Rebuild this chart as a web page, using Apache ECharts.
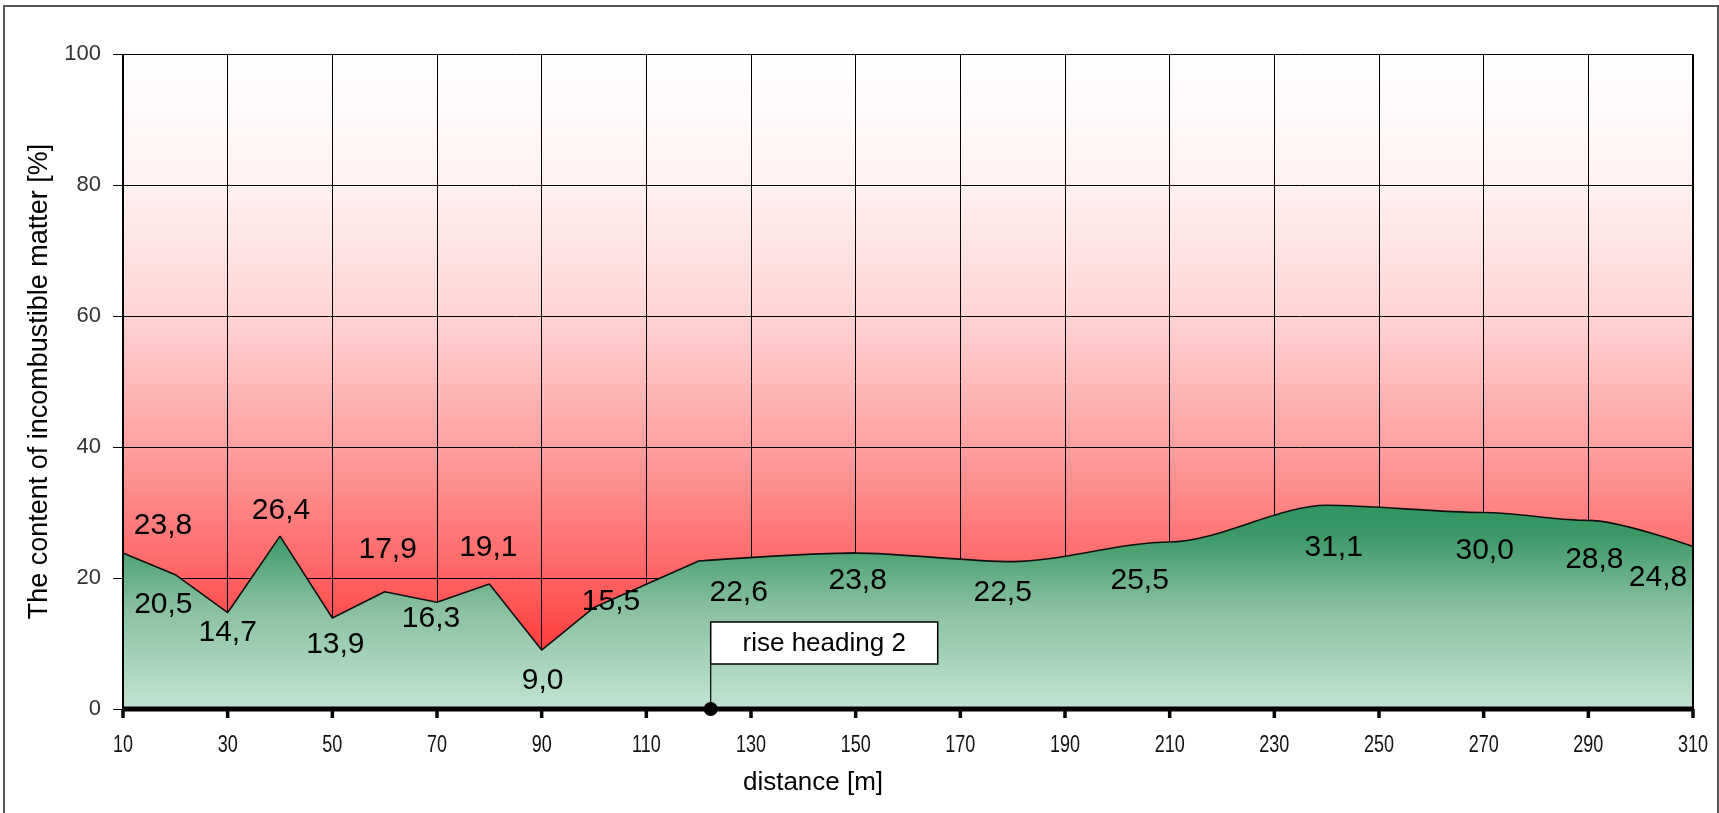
<!DOCTYPE html>
<html>
<head>
<meta charset="utf-8">
<script src="https://cdn.jsdelivr.net/npm/echarts@6/dist/echarts.min.js"></script>
<style>
html,body{margin:0;padding:0;background:#fff;}
#chart{width:1719px;height:813px;}
</style>
</head>
<body>
<div id="chart"></div>
<script>
// ---- data ----
const distances = [10, 20, 30, 40, 50, 60, 70, 80, 90, 100, 120, 150, 180, 210, 240, 270, 290, 310];
const contents  = [23.8, 20.5, 14.7, 26.4, 13.9, 17.9, 16.3, 19.1, 9.0, 15.5, 22.6, 23.8, 22.5, 25.5, 31.1, 30.0, 28.8, 24.8];
const smoothFrom = 120;            // profile drawn smoothed from this distance on
const xTicks = [10, 30, 50, 70, 90, 110, 130, 150, 170, 190, 210, 230, 250, 270, 290, 310];
const yTicks = [0, 20, 40, 60, 80, 100];
const riseHeadingName = 'rise heading 2';
const riseHeadingDistance = 122.3;
const xTitle = 'distance [m]';
const yTitle = 'The content of incombustible matter [%]';

// ---- label layout (pixel offsets of the value labels from their points) ----
const labelOffsets = [
  [40, -27], [-12, 30], [0, 20], [1, -25], [3, 27], [3, -42], [-6, 16], [-1, -36], [1, 31], [17, -6],
  [40, 32], [2, 28], [-10, 31], [-30, 39], [7, 42], [1, 38], [6, 39], [-35, 31]
];

const FONT = "'Liberation Sans', Arial, sans-serif";

function fmt(v) { return v.toFixed(1).replace('.', ','); }

const splitIdx = distances.indexOf(smoothFrom);
function points(from, to, labelFrom, labelTo) {
  const out = [];
  for (let i = from; i <= to; i++) {
    out.push({
      value: [distances[i], contents[i]],
      label: { show: i >= labelFrom && i <= labelTo, offset: labelOffsets[i] }
    });
  }
  return out;
}
// straight part runs one point into the smoothed part so the two fills overlap (no seam)
const partA = points(0, splitIdx + 1, 0, splitIdx - 1);
const partB = points(splitIdx, distances.length - 1, splitIdx, distances.length - 1);

const xMin = xTicks[0], xMax = xTicks[xTicks.length - 1], xStep = xTicks[1] - xTicks[0];
const yMin = yTicks[0], yMax = yTicks[yTicks.length - 1], yStep = yTicks[1] - yTicks[0];

const chart = echarts.init(document.getElementById('chart'), null, { renderer: 'canvas' });

const redBg = new echarts.graphic.LinearGradient(0, 0, 0, 1, [
  { offset: 0, color: '#ffffff' },
  { offset: 0.2, color: '#fff1f1' },
  { offset: 0.4, color: '#ffd4d4' },
  { offset: 0.6, color: '#ffa0a0' },
  { offset: 0.8, color: '#ff6262' },
  { offset: 1, color: '#ff1e1e' }
]);

const greenStops = [
  { offset: 0, color: '#309461' },
  { offset: 0.15, color: '#3c9967' },
  { offset: 0.5, color: '#88c09f' },
  { offset: 1, color: '#c2e4d3' }
];

function lineSeries(data, smooth, z) {
  return {
    type: 'line',
    xAxisIndex: 0,
    yAxisIndex: 0,
    data: data,
    smooth: smooth,
    smoothMonotone: 'x',
    symbol: 'circle',
    symbolSize: 1,
    showSymbol: true,
    showAllSymbol: true,
    itemStyle: { color: 'rgba(0,0,0,0)' },
    lineStyle: { color: '#111', width: 1.6 },
    areaStyle: { color: new echarts.graphic.LinearGradient(0, 0, 0, 1, greenStops), opacity: 1 },
    label: {
      show: true,
      position: 'inside',
      color: '#000',
      fontFamily: FONT,
      fontSize: 30,
      align: 'center',
      verticalAlign: 'middle',
      formatter: p => fmt(p.value[1])
    },
    emphasis: { disabled: true },
    animation: false,
    z: z
  };
}

const option = {
  animation: false,
  backgroundColor: '#ffffff',
  grid: {
    left: 123, right: 26, top: 54, bottom: 104,
    show: true, backgroundColor: redBg, borderWidth: 0
  },
  graphic: [{
    type: 'rect',
    shape: { x: 4, y: 6, width: 1714, height: 830 },
    style: { fill: 'none', stroke: '#555', lineWidth: 2 },
    silent: true, z: 100
  }],
  xAxis: [
    {
      type: 'value', min: xMin, max: xMax, interval: xStep, position: 'bottom',
      axisLine: { show: false }, axisTick: { show: false }, axisLabel: { show: false },
      splitLine: { show: true, lineStyle: { color: '#000', width: 1 } },
      name: xTitle, nameLocation: 'middle', nameGap: 61,
      nameTextStyle: { color: '#000', fontFamily: FONT, fontSize: 26, padding: [0, 190, 0, 0] }
    }
  ],
  yAxis: [
    {
      type: 'value', min: yMin, max: yMax, interval: yStep, position: 'left',
      axisLine: { show: false },
      axisTick: { show: true, inside: false, length: 10, lineStyle: { color: '#000', width: 1 } },
      axisLabel: { show: true, margin: 22, color: '#333', fontFamily: FONT, fontSize: 22 },
      splitLine: { show: true, lineStyle: { color: '#000', width: 1 } },
      name: yTitle, nameLocation: 'middle', nameGap: 66,
      nameTextStyle: { color: '#000', fontFamily: FONT, fontSize: 27 }
    }
  ],
  series: [
    lineSeries(partA, false, 2),
    lineSeries(partB, 0.3, 3),
    // plot frame drawn above the fill: x axis line with ticks and narrow tick labels, side edges
    {
      type: 'custom',
      xAxisIndex: 0,
      yAxisIndex: 0,
      z: 15,
      clip: false,
      silent: true,
      data: [[xMin, yMin]],
      renderItem: function (params, api) {
        const bl = api.coord([xMin, yMin]);
        const br = api.coord([xMax, yMin]);
        const tl = api.coord([xMin, yMax]);
        const tr = api.coord([xMax, yMax]);
        const children = [
          { type: 'line', shape: { x1: tl[0], y1: tl[1], x2: bl[0], y2: bl[1] }, style: { stroke: '#000', lineWidth: 2 } },
          { type: 'line', shape: { x1: tr[0], y1: tr[1], x2: br[0], y2: br[1] }, style: { stroke: '#000', lineWidth: 2 } },
          { type: 'line', shape: { x1: bl[0] - 1, y1: bl[1], x2: br[0] + 1, y2: br[1] }, style: { stroke: '#000', lineWidth: 5 } }
        ];
        xTicks.forEach(function (t) {
          const p = api.coord([t, yMin]);
          children.push({ type: 'line', shape: { x1: p[0], y1: p[1], x2: p[0], y2: p[1] + 9 }, style: { stroke: '#000', lineWidth: 3.5 } });
          children.push({
            type: 'text', x: p[0], y: p[1] + 36, scaleX: 0.75, scaleY: 1,
            style: { x: 0, y: 0, text: String(t), fill: '#111', font: '24px ' + FONT, align: 'center', verticalAlign: 'middle' }
          });
        });
        return { type: 'group', children: children };
      }
    },
    {
      type: 'custom',
      xAxisIndex: 0,
      yAxisIndex: 0,
      z: 20,
      clip: false,
      silent: true,
      data: [[riseHeadingDistance, 0]],
      renderItem: function (params, api) {
        const p = api.coord([api.value(0), api.value(1)]);
        const boxTop = p[1] - 87, boxW = 227, boxH = 42;
        return {
          type: 'group',
          children: [
            { type: 'line', shape: { x1: p[0], y1: p[1], x2: p[0], y2: boxTop }, style: { stroke: '#000', lineWidth: 1.2 } },
            { type: 'rect', shape: { x: p[0], y: boxTop, width: boxW, height: boxH }, style: { fill: '#fff', stroke: '#000', lineWidth: 1.5 } },
            { type: 'text', style: { x: p[0] + boxW / 2, y: boxTop + boxH / 2 + 1, text: riseHeadingName, fill: '#000', font: '26px ' + FONT, align: 'center', verticalAlign: 'middle' } },
            { type: 'circle', shape: { cx: p[0], cy: p[1], r: 7 }, style: { fill: '#000' } }
          ]
        };
      }
    }
  ]
};

chart.setOption(option);

// green gradient spanning from the highest value down to the axis for both parts
const yTopPx = chart.convertToPixel({ yAxisIndex: 0 }, Math.max.apply(null, contents));
const yZeroPx = chart.convertToPixel({ yAxisIndex: 0 }, 0);
function globalGreen() {
  return new echarts.graphic.LinearGradient(0, yTopPx, 0, yZeroPx, greenStops, true);
}
chart.setOption({
  series: [
    { areaStyle: { color: globalGreen(), opacity: 1 } },
    { areaStyle: { color: globalGreen(), opacity: 1 } }
  ]
});
</script>
</body>
</html>
